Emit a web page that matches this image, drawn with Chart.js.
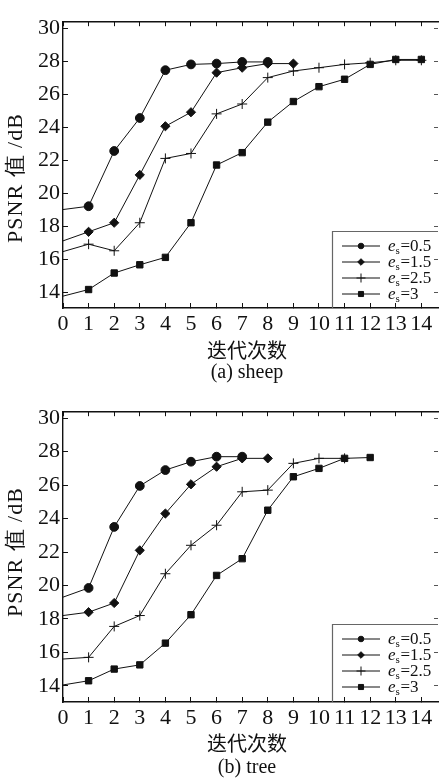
<!DOCTYPE html>
<html>
<head>
<meta charset="utf-8">
<script src="https://cdn.jsdelivr.net/npm/chart.js@4.4.0/dist/chart.umd.min.js"></script>
<style>
  html, body { margin: 0; padding: 0; background: #fff; }
  #wrap { position: relative; width: 444px; height: 781px; overflow: hidden; }
  canvas { position: absolute; left: 0; }
</style>
</head>
<body>
<div id="wrap">
  <canvas id="sheepChart" width="444" height="390" style="top:0"></canvas>
  <canvas id="treeChart" width="444" height="391" style="top:390px"></canvas>
</div>
<script>
/* ── Data ─────────────────────────────────────────────────────────────── */
const yTicks = [14, 16, 18, 20, 22, 24, 26, 28, 30];
const xTicks = [0, 1, 2, 3, 4, 5, 6, 7, 8, 9, 10, 11, 12, 13, 14];
const seriesLabels = ['0.5', '1.5', '2.5', '3'];

// (a) sheep
const sheepIter05 = [0, 1, 2, 3, 4, 5, 6, 7, 8];
const sheepPsnr05 = [19.0, 19.2, 22.55, 24.55, 27.45, 27.8, 27.85, 27.95, 27.95];
const sheepIter15 = [0, 1, 2, 3, 4, 5, 6, 7, 8, 9];
const sheepPsnr15 = [17.1, 17.65, 18.2, 21.1, 24.05, 24.9, 27.3, 27.6, 27.85, 27.85];
const sheepIter25 = [0, 1, 2, 3, 4, 5, 6, 7, 8, 9, 10, 11, 12, 13, 14];
const sheepPsnr25 = [16.45, 16.9, 16.5, 18.2, 22.1, 22.4, 24.8, 25.4, 27.0, 27.4, 27.6, 27.8, 27.9, 28.05, 28.05];
const sheepIter3  = [0, 1, 2, 3, 4, 5, 6, 7, 8, 9, 10, 11, 12, 13, 14];
const sheepPsnr3  = [13.75, 14.15, 15.15, 15.65, 16.1, 18.2, 21.7, 22.45, 24.3, 25.55, 26.45, 26.9, 27.8, 28.1, 28.1];

// (b) tree
const treeIter05 = [0, 1, 2, 3, 4, 5, 6, 7];
const treePsnr05 = [19.3, 19.85, 23.5, 25.95, 26.9, 27.4, 27.7, 27.7];
const treeIter15 = [0, 1, 2, 3, 4, 5, 6, 7, 8];
const treePsnr15 = [18.2, 18.4, 18.95, 22.1, 24.3, 26.05, 27.1, 27.6, 27.6];
const treeIter25 = [0, 1, 2, 3, 4, 5, 6, 7, 8, 9, 10, 11];
const treePsnr25 = [15.6, 15.7, 17.55, 18.2, 20.7, 22.4, 23.6, 25.6, 25.7, 27.3, 27.6, 27.6];
const treeIter3  = [0, 1, 2, 3, 4, 5, 6, 7, 8, 9, 10, 11, 12];
const treePsnr3  = [14.05, 14.3, 15.0, 15.25, 16.55, 18.25, 20.6, 21.6, 24.5, 26.5, 27.0, 27.6, 27.65];

/* ── Styles ───────────────────────────────────────────────────────────── */
const INK = '#111';
const SERIF = '"Liberation Serif", "Times New Roman", serif';
const MARKERS = [
  { pointStyle: 'circle',  radius: 4.4, legendRadius: 2.8 },
  { pointStyle: 'rectRot', radius: 4.6, legendRadius: 3.3 },
  { pointStyle: 'cross',   radius: 5,   legendRadius: 4.5 },
  { pointStyle: 'rect',    radius: 4.5, legendRadius: 3.6 },
];

function pairs(xs, ys) { return xs.map((x, i) => ({ x: x, y: ys[i] })); }

function makeDatasets(list) {
  return list.map((d, i) => ({
    label: seriesLabels[i],
    data: pairs(d[0], d[1]),
    borderColor: INK,
    backgroundColor: INK,
    borderWidth: 1,
    pointStyle: MARKERS[i].pointStyle,
    pointRadius: ctx => ctx.dataIndex === 0 ? 0 : MARKERS[i].radius,
    pointBorderWidth: 1,
    tension: 0,
    clip: 0,
  }));
}

/* ── Labels, titles and the legend box ───────────────────────────────── */
function labelsPlugin(opts) {
  return {
    id: 'labels',
    afterDraw(chart) {
      const c = chart.ctx;
      const area = chart.chartArea;
      c.save();
      c.fillStyle = INK;
      c.textAlign = 'center';
      c.textBaseline = 'middle';
      c.font = '20px "Noto Sans CJK SC", serif';
      c.fillText('迭代次数', opts.xTitleX, opts.xTitleY);
      c.font = '20px ' + SERIF;
      c.fillText(opts.caption, opts.xTitleX, opts.captionY);

      // rotated y title
      c.save();
      c.translate(opts.yTitleX, opts.yTitleY);
      c.rotate(-Math.PI / 2);
      c.font = '22px ' + SERIF;
      c.letterSpacing = '1px';
      c.fillText('PSNR 值 /dB', 0, 0);
      c.restore();

      // legend box
      const bx = 332, by = opts.legendTop;
      c.strokeStyle = '#666';
      c.lineWidth = 1.2;
      c.beginPath();
      c.moveTo(bx + 0.5, area.bottom);
      c.lineTo(bx + 0.5, by + 0.5);
      c.lineTo(area.right, by + 0.5);
      c.stroke();

      chart.data.datasets.forEach((ds, i) => {
        const y = by + 15 + i * 16;
        c.strokeStyle = INK;
        c.fillStyle = INK;
        c.lineWidth = 1;
        c.beginPath();
        c.moveTo(342, y);
        c.lineTo(380, y);
        c.stroke();
        Chart.helpers.drawPoint(c, {
          pointStyle: MARKERS[i].pointStyle,
          radius: MARKERS[i].legendRadius,
          borderWidth: 1,
          rotation: 0,
        }, 361, y);
        c.textAlign = 'left';
        c.textBaseline = 'alphabetic';
        c.font = 'italic 17px ' + SERIF;
        c.fillText('e', 388, y + 5);
        c.font = '11px ' + SERIF;
        c.fillText('s', 395.5, y + 8);
        c.font = '17px ' + SERIF;
        c.fillText('=' + ds.label, 400.5, y + 5);
      });
      c.restore();
    }
  };
}

function makeChart(id, datasets, opts) {
  const tickFont = { family: SERIF, size: 22 };
  const setTicks = list => scale => { scale.ticks = list.map(v => ({ value: v })); };
  return new Chart(document.getElementById(id), {
    type: 'line',
    data: { datasets: datasets },
    options: {
      responsive: false,
      animation: false,
      layout: { padding: 0 },
      plugins: { legend: { display: false }, tooltip: { enabled: false } },
      scales: {
        x: {
          type: 'linear', position: 'bottom', min: 0, max: 14.65,
          afterBuildTicks: setTicks(xTicks),
          afterFit: s => { s.height = opts.bottomSpace; },
          ticks: { color: INK, font: tickFont, padding: 8, maxRotation: 0, autoSkip: false },
          grid: { drawOnChartArea: false, tickLength: -5, color: INK },
          border: { color: INK, width: 1.4 },
        },
        xTop: {
          type: 'linear', position: 'top', min: 0, max: 14.65,
          afterBuildTicks: setTicks(xTicks),
          afterFit: s => { s.height = opts.topSpace; },
          ticks: { display: false },
          grid: { drawOnChartArea: false, tickLength: -5, color: INK },
          border: { color: INK, width: 1.4 },
        },
        y: {
          type: 'linear', position: 'left', min: 13.03, max: 30.42,
          afterBuildTicks: setTicks(yTicks),
          afterFit: s => { s.width = 63; },
          ticks: { color: INK, font: tickFont, padding: 8 },
          grid: { drawOnChartArea: false, tickLength: -5, color: INK },
          border: { color: INK, width: 1.4 },
        },
        yRight: {
          type: 'linear', position: 'right', min: 13.03, max: 30.42,
          afterBuildTicks: setTicks(yTicks),
          afterFit: s => { s.width = 0; },
          ticks: { display: false },
          grid: { drawOnChartArea: false, tickLength: -4, color: '#555' },
          border: { display: false },
        },
      }
    },
    plugins: [labelsPlugin(opts)]
  });
}

makeChart('sheepChart', makeDatasets([
  [sheepIter05, sheepPsnr05], [sheepIter15, sheepPsnr15],
  [sheepIter25, sheepPsnr25], [sheepIter3, sheepPsnr3]
]), {
  topSpace: 7, bottomSpace: 82, caption: '(a) sheep',
  xTitleX: 247, xTitleY: 350, captionY: 373,
  yTitleX: 16, yTitleY: 178, legendTop: 231,
});

makeChart('treeChart', makeDatasets([
  [treeIter05, treePsnr05], [treeIter15, treePsnr15],
  [treeIter25, treePsnr25], [treeIter3, treePsnr3]
]), {
  topSpace: 12, bottomSpace: 79, caption: '(b) tree',
  xTitleX: 247, xTitleY: 353, captionY: 378,
  yTitleX: 16, yTitleY: 162, legendTop: 234,
});
</script>
</body>
</html>
